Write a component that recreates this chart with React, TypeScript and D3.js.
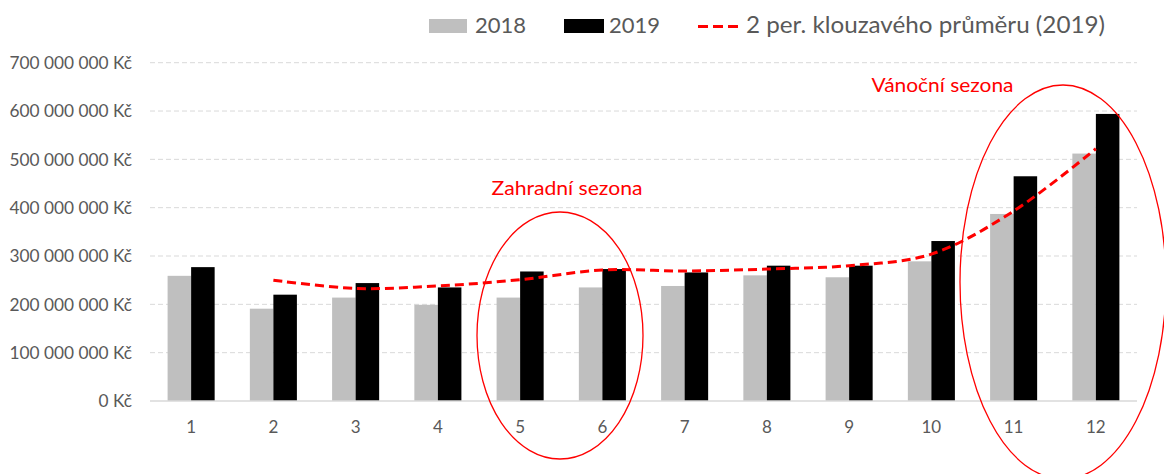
import React from "react";
import * as d3 from "d3";

const months = ["1", "2", "3", "4", "5", "6", "7", "8", "9", "10", "11", "12"];
const sales2018 = [259, 191, 214, 199, 214, 235, 238, 260, 256, 289, 387, 512];
const sales2019 = [277, 220, 244, 235, 268, 273, 266, 280, 280, 331, 465, 594];
const movingAvg2019: (number | null)[] = [null, 250, 233, 238, 251, 271, 269, 273, 280, 304, 393, 522];
const yTicks = [0, 100, 200, 300, 400, 500, 600, 700];
const yTickLabels = [
  "0 Kč",
  "100 000 000 Kč",
  "200 000 000 Kč",
  "300 000 000 Kč",
  "400 000 000 Kč",
  "500 000 000 Kč",
  "600 000 000 Kč",
  "700 000 000 Kč",
];
const seriesNames = ["2018", "2019", "2 per. klouzavého průměru (2019)"];
const annotations = ["Zahradní sezona", "Vánoční sezona"];

const W = 1164;
const H = 474;
const FONT = "Lato, 'Open Sans', sans-serif";
const TEXT = "#595959";
const RED = "#ff0000";

export default function App() {
  const x = d3.scaleBand<string>().domain(months).range([150, 1137]).paddingInner(0.428).paddingOuter(0.214);
  const y = d3.scaleLinear().domain([0, 700]).range([401, 62.7]);
  const bw = x.bandwidth() / 2;

  const line = d3
    .line<{ m: string; v: number | null }>()
    .defined((d) => d.v !== null)
    .x((d) => (x(d.m) as number) + x.bandwidth() / 2)
    .y((d) => y(d.v as number))
    .curve(d3.curveCatmullRom.alpha(0.5));
  const maPath = line(months.map((m, i) => ({ m, v: movingAvg2019[i] }))) || "";

  return (
    <svg width={W} height={H} style={{ position: "absolute", left: 0, top: 0, background: "#fff" }} fontFamily={FONT}>
      {/* gridlines */}
      {yTicks.map((t, i) =>
        t === 0 ? null : (
          <line key={"g" + i} x1={150} x2={1137} y1={y(t)} y2={y(t)} stroke="#d9d9d9" strokeWidth={1} strokeDasharray="5 3" />
        )
      )}
      {/* y labels */}
      {yTicks.map((t, i) => (
        <text key={"yl" + i} x={132} y={y(t)} dy="0.36em" textAnchor="end" fontSize={17.3} fill={TEXT}>
          {yTickLabels[i]}
        </text>
      ))}
      {/* bars */}
      {months.map((m, i) => (
        <g key={"b" + m}>
          <rect x={x(m) as number} y={y(sales2018[i])} width={bw} height={y(0) - y(sales2018[i])} fill="#bfbfbf" />
          <rect x={(x(m) as number) + bw} y={y(sales2019[i])} width={bw} height={y(0) - y(sales2019[i])} fill="#000000" />
        </g>
      ))}
      {/* x axis */}
      <line x1={150} x2={1137} y1={y(0)} y2={y(0)} stroke="#d9d9d9" strokeWidth={1.5} />
      {months.map((m) => (
        <text key={"xl" + m} x={(x(m) as number) + x.bandwidth() / 2} y={433} textAnchor="middle" fontSize={17} fill={TEXT}>
          {m}
        </text>
      ))}
      {/* moving average */}
      <path d={maPath} fill="none" stroke={RED} strokeWidth={3} strokeDasharray="9 5" />
      {/* ellipses */}
      <ellipse cx={560} cy={335.5} rx={83} ry={123.5} fill="none" stroke={RED} strokeWidth={1.3} />
      <ellipse cx={1063} cy={282} rx={103} ry={197} fill="none" stroke={RED} strokeWidth={1.3} />
      {/* annotations */}
      <text x={491.5} y={195} fontSize={19.5} fill={RED} textLength={151} lengthAdjust="spacingAndGlyphs">
        {annotations[0]}
      </text>
      <text x={871.5} y={92} fontSize={19.5} fill={RED} textLength={142} lengthAdjust="spacingAndGlyphs">
        {annotations[1]}
      </text>
      {/* legend */}
      <rect x={429} y={19} width={38} height={14} fill="#bfbfbf" />
      <text x={475} y={33} fontSize={22} fill={TEXT}>
        {seriesNames[0]}
      </text>
      <rect x={564} y={19} width={40} height={14} fill="#000000" />
      <text x={609} y={33} fontSize={22} fill={TEXT}>
        {seriesNames[1]}
      </text>
      <line x1={698} x2={742} y1={26.5} y2={26.5} stroke={RED} strokeWidth={3} strokeDasharray="10 5" />
      <text x={746} y={33} fontSize={22.5} fill={TEXT} textLength={359} lengthAdjust="spacingAndGlyphs">
        {seriesNames[2]}
      </text>
    </svg>
  );
}
